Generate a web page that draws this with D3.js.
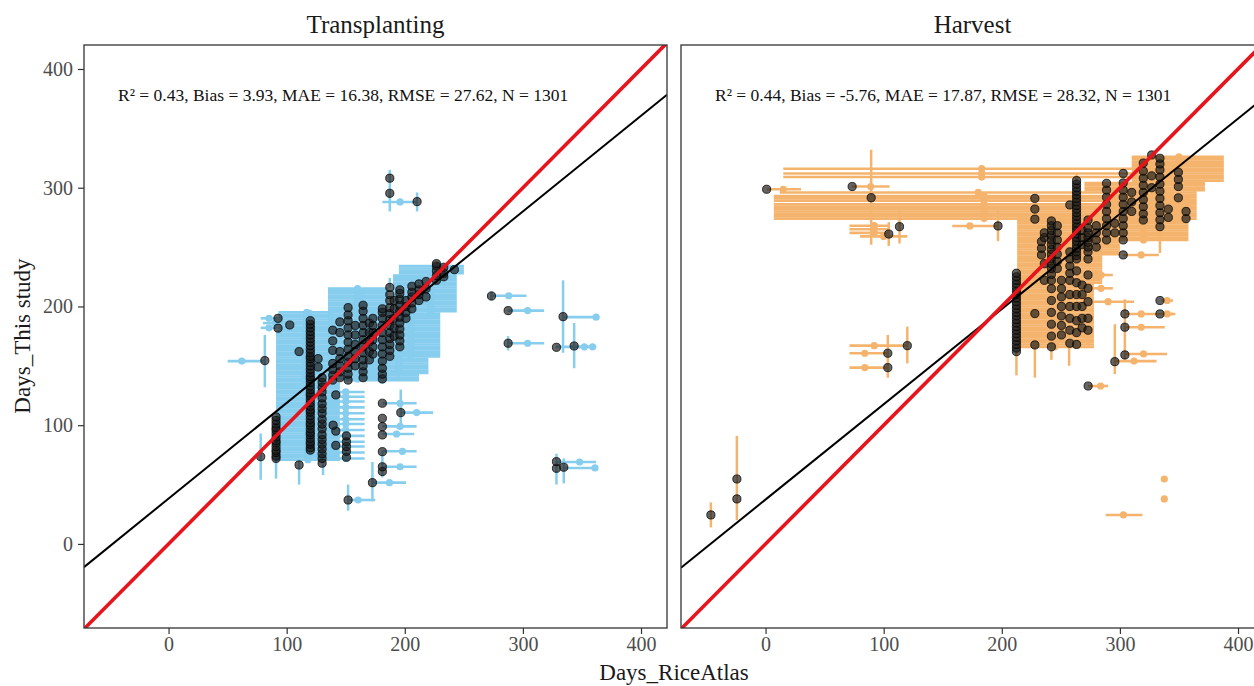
<!DOCTYPE html>
<html>
<head>
<meta charset="utf-8">
<script src="https://cdn.jsdelivr.net/npm/d3@7"></script>
<style>
  html, body { margin: 0; padding: 0; background: #fff; overflow: hidden; }
  text { font-family: "Liberation Serif", "Times New Roman", serif; }
</style>
</head>
<body>
<svg id="chart" width="1254" height="686"></svg>
<script>
// values are day-of-year
const panelTitles = ['Transplanting', 'Harvest'];
const statLabels = [
  'R\u00B2 = 0.43, Bias = 3.93, MAE = 16.38, RMSE = 27.62, N = 1301',
  'R\u00B2 = 0.44, Bias = -5.76, MAE = 17.87, RMSE = 28.32, N = 1301'
];
const tickValues = [0, 100, 200, 300, 400];
const axisDomain = [-71.6, 422];
// fitted line [intercept, slope]
const transFit = [38.2, 0.806];
const harvFit = [37.4, 0.802];

// horizontal bars (RiceAtlas range): [xlo, xhi, xdot, [y, ...]]
const transHBars = [
  [91, 145, 118, [71, 73, 75, 77, 79, 81, 83, 85, 87, 89, 91, 93, 95, 97, 99, 101, 103, 105, 107, 109, 111, 113, 115, 117, 119, 121, 123, 125, 127, 129, 131, 133, 135]],
  [91, 142, 116, [137, 139, 141, 143, 145, 147, 149, 151, 153, 155, 157, 159, 161, 163, 165, 167, 169, 171, 173, 175, 177, 179]],
  [93, 140, 117, [181, 183, 185, 187, 189, 191, 193, 195]],
  [135, 186, 160, [139, 141, 143, 145, 147, 149, 151, 153, 155, 157, 159, 161, 163, 165, 167, 169, 171, 173, 175, 177, 179, 181, 183, 185, 187, 189, 191, 193, 195, 197, 199, 201, 203, 205, 207, 209, 211, 213, 215]],
  [195, 250, 228, [228, 230, 232, 234]],
  [190, 244, 222, [196, 198, 200, 202, 204, 206, 208, 210, 212, 214, 216, 218, 220, 222, 224, 226]],
  [180, 230, 205, [158, 160, 162, 164, 166, 168, 170, 172, 174, 176, 178, 180, 182, 184, 186, 188, 190, 192, 194]],
  [165, 220, 195, [144, 146, 148, 150, 152, 154, 156]],
  [150, 212, 181, [138, 140, 142]],
  [128, 166, 150, [72, 77, 82, 86, 91, 96, 101, 105, 110, 115, 120, 124, 128]],
  [78, 93, 85, [182, 190]],
  [80, 103, 90, [186]],
  [50, 81, 62, [154]],
  [181, 210, 196, [65, 99, 118.5, 288]],
  [181, 208, 193, [92.6]],
  [181, 210, 198, [78]],
  [196, 224, 210, [110.6]],
  [172, 201, 187, [51.6]],
  [152, 175, 160.5, [37]],
  [273, 303, 288, [209]],
  [287, 318, 304, [169, 196.5]],
  [334, 362, 362, [191]],
  [328, 362, 352, [166]],
  [343, 362, 359, [166]],
  [328, 362, 348, [69]],
  [334, 362, 361, [64]]
];
// vertical bars (this study spread): [x, ylo, yhi]
const transVBars = [
  [187.3, 280, 315], [210.4, 280, 296], [81.5, 132, 176], [78, 54, 93],
  [91, 55, 75], [110.5, 50, 70], [130.8, 58, 72], [152, 28, 50],
  [172.6, 36, 69], [181, 56, 78], [196.6, 99, 130], [120, 188, 197],
  [164.7, 201, 215], [187.3, 216, 224],
  [334, 161, 222], [343.4, 148, 186], [287.5, 163, 175], [273.4, 205, 213],
  [328.4, 50, 76], [334.6, 51, 72]
];
// site points: [x, [y, ...]]
const transPoints = [
  [120, [79, 81, 84, 86, 89, 92, 94, 97, 100, 102, 105, 108, 111, 113, 116, 119, 122, 125, 127, 130, 133, 136, 139, 141, 144, 147, 150, 153, 156, 158, 161, 164, 167, 170, 173, 176, 179, 182, 185, 188]],
  [91, [72, 74, 77, 79, 82, 85, 87, 90, 93, 96, 98, 101, 104, 107]],
  [130, [68, 72, 76, 80, 84, 88, 92, 97, 101, 105, 110, 114, 118, 123, 128, 132, 136, 140]],
  [150.6, [73, 78, 82, 86, 91]],
  [141.6, [83, 95, 125.5]],
  [139.3, [100]],
  [181, [61, 65, 77.7, 91.8, 98.8, 105.8, 118.5]],
  [126.6, [149, 156]],
  [139, [138, 142, 147, 152, 163, 171, 180]],
  [145, [140, 145, 150, 156, 162, 178, 187]],
  [152, [138, 143, 148, 153, 158, 164, 170, 176, 182, 188, 193, 199]],
  [158, [150, 156, 162, 168, 176, 184]],
  [164.7, [140, 145, 150, 155, 161, 166, 172, 178, 184, 190, 196, 201]],
  [170, [155, 162, 170, 178, 186]],
  [173, [160, 166, 172, 178, 184, 190]],
  [181, [139, 143, 148, 154, 160, 166, 172, 178, 184, 190, 195, 198]],
  [187.3, [158, 163, 168, 173, 178, 184, 189, 194, 199, 205, 210, 216]],
  [191, [175, 182, 190, 198, 205]],
  [195.8, [166, 171, 176, 181, 186, 191, 196, 201, 206, 211, 214]],
  [201, [190, 195, 200, 205]],
  [206, [198, 203, 208, 212, 217]],
  [212, [205, 210, 214, 219]],
  [218, [208, 215, 221]],
  [226.8, [222, 226, 230, 234, 236]],
  [233, [225, 228, 233]],
  [242, [231]],
  [92.7, [181.7, 190]], [102.6, [184.4]], [110.5, [66.5, 162]], [81.5, [154.4]], [78, [73.5]],
  [172.6, [51.6]], [152, [37]], [196.6, [110.6]],
  [187.3, [295.3, 308]], [210.4, [288.3]],
  [273.4, [208.8]], [287.5, [169, 196.5]], [334, [191.4]],
  [328.4, [63.7, 69.3, 165.6]], [343.4, [166.7]], [334.6, [64.6]]
];

const harvHBars = [
  [15, 352, 183, [309, 312, 316]],
  [7, 360, 185, [274, 276, 278, 280, 282, 284, 286, 289, 291, 293]],
  [12, 345, 180, [296]],
  [1, 30, 15, [298.7]],
  [73, 105, 89, [301]],
  [71, 105, 92, [262, 265, 268]],
  [80, 120, 100, [259]],
  [158, 197, 173, [267.8]],
  [71, 120, 92, [167]],
  [71, 104, 84, [148.5, 160.6]],
  [213, 285, 248, [220, 222, 224, 226, 228, 230, 232, 234, 236, 238, 240, 242, 244, 246, 248, 250, 252, 254, 256, 258, 260, 262, 264, 266, 268, 270, 272, 274]],
  [213, 278, 245, [166, 168, 170, 172, 174, 176, 178, 180, 182, 184, 186, 188, 190, 192, 194, 196, 198, 200, 202, 204, 206, 208, 210, 212, 214, 216, 218]],
  [230, 300, 265, [244, 246, 248, 250, 252, 254, 256]],
  [280, 358, 320, [256, 258, 260, 262, 264, 266, 268, 270, 272]],
  [290, 365, 330, [274, 276, 278, 280, 282, 284, 286, 288, 290, 292, 294, 296]],
  [270, 372, 320, [298, 300, 302, 304]],
  [310, 388, 350, [306, 308, 310, 312, 314, 316, 318, 320, 322, 324, 326]],
  [273, 294, 284, [215.3, 226.5]],
  [273, 312, 290, [204]],
  [304, 347, 318, [193.7]],
  [304, 338, 318, [182.5]],
  [304, 340, 320, [160]],
  [296, 331, 312, [154]],
  [302.8, 333, 318, [243.4]],
  [335, 345, 340, [193.7, 205]],
  [273, 290, 283.6, [133]],
  [336, 339, 337.6, [37.9, 54.7]],
  [288, 319, 303, [24.4]]
];
const harvVBars = [
  [-46.3, 14, 35], [-24.3, 20, 91], [89.4, 252, 332], [104.3, 251, 271], [113.4, 253, 281],
  [120, 152, 183], [103.5, 140, 176], [196.8, 255, 281], [212.4, 142, 162], [228, 140, 168],
  [257, 150, 170], [273, 168, 190], [295.7, 143, 185], [304.2, 154, 206], [333.9, 245, 268],
  [263.3, 306, 312], [242, 155, 166]
];
const harvPoints = [
  [-46.3, [24.4]], [-24.3, [37.9, 54.7]], [0.9, [298.7]], [73.3, [301]], [89.4, [291.6]],
  [104.3, [261]], [113.4, [267.2]], [120, [167]], [103.5, [148.5, 160.6]], [196.8, [267.8]],
  [212.4, [162, 165, 168, 171, 174, 177, 180, 183, 186, 189, 192, 195, 198, 201, 204, 207, 210, 213, 216, 219, 222, 225, 228]],
  [228, [167.6, 194, 273.5, 282, 291]],
  [233.6, [243.4, 249, 254.6]],
  [236, [222, 236, 258, 262]],
  [242, [166, 175, 185, 195, 205, 215, 222, 227, 232, 236, 240, 244, 248, 252, 256, 260, 264, 268, 272]],
  [247, [232, 238, 244, 250, 256, 262, 268]],
  [250.5, [176, 184, 192, 200, 208, 215, 222]],
  [257.6, [169, 180, 190, 200, 210, 222, 228, 234, 240, 246, 285.5]],
  [263.3, [168, 178, 188, 200, 210, 220, 230, 240, 243, 246, 249, 252, 255, 258, 261, 264, 267, 270, 273, 276, 279, 282, 285, 288, 291, 294, 297, 300, 303, 306]],
  [268, [182, 190, 200, 210, 218, 252, 258, 264]],
  [273, [180, 190, 204, 215.3, 226.5, 240, 246, 250, 254, 258, 262, 266, 272.8]],
  [280, [250, 256, 262, 268]],
  [288.7, [256, 262, 268, 274, 280, 286, 292, 298, 303.7]],
  [295.7, [153.5, 262, 270]],
  [302.8, [243.4, 256, 262, 268, 274, 280, 286, 292, 298, 304, 312]],
  [304.2, [159.2, 182.5, 193.7]],
  [310, [280, 288, 296]],
  [319.8, [272.8, 278, 284, 290, 296, 302, 308, 314, 320.8]],
  [326.9, [300, 310, 327.6]],
  [333.9, [193.7, 205, 267.2, 273, 279, 285, 291, 297, 303, 309, 315, 320, 324.8]],
  [341, [275, 282]],
  [349.5, [291.5, 301, 307, 313]],
  [356, [274, 280]],
  [273.1, [133]]
];

const panelSize = 583, panelTop = 45;
const panels = [
  { left: 84, hbars: transHBars, vbars: transVBars, points: transPoints, fit: transFit, color: '#86cdee', yAxis: true },
  { left: 681, hbars: harvHBars, vbars: harvVBars, points: harvPoints, fit: harvFit, color: '#f5b46e', yAxis: false }
];

const svg = d3.select('#chart');

panels.forEach((p, i) => drawPanel(p, i));

function drawPanel(p, i) {
  const x = d3.scaleLinear(axisDomain, [p.left, p.left + panelSize]);
  const y = d3.scaleLinear([-70.8, 420.2], [panelTop + panelSize, panelTop]);

  svg.append('clipPath').attr('id', 'clip' + i)
    .append('rect')
    .attr('x', p.left).attr('y', panelTop)
    .attr('width', panelSize).attr('height', panelSize);

  const g = svg.append('g').attr('clip-path', `url(#clip${i})`);

  const hb = p.hbars.flatMap(([x0, x1, xd, ys]) => ys.map(v => ({ x0, x1, xd, y: v })));
  const pts = p.points.flatMap(([px, ys]) => ys.map(v => [px, v]));

  g.append('g').selectAll('line')
    .data(hb)
    .join('line')
    .attr('x1', d => x(d.x0)).attr('x2', d => x(d.x1))
    .attr('y1', d => y(d.y)).attr('y2', d => y(d.y))
    .attr('stroke', p.color)
    .attr('stroke-width', 2.6);

  g.append('g').selectAll('line')
    .data(p.vbars)
    .join('line')
    .attr('x1', d => x(d[0])).attr('x2', d => x(d[0]))
    .attr('y1', d => y(d[1])).attr('y2', d => y(d[2]))
    .attr('stroke', p.color)
    .attr('stroke-width', 2.5);

  g.append('g').selectAll('circle')
    .data(hb)
    .join('circle')
    .attr('cx', d => x(d.xd)).attr('cy', d => y(d.y))
    .attr('r', 3.6)
    .attr('fill', p.color);

  g.append('g').selectAll('circle')
    .data(pts)
    .join('circle')
    .attr('cx', d => x(d[0])).attr('cy', d => y(d[1]))
    .attr('r', 4.1)
    .attr('fill', '#1a1a1a')
    .attr('fill-opacity', 0.68)
    .attr('stroke', '#000')
    .attr('stroke-opacity', 0.75)
    .attr('stroke-width', 1);

  const [d0, d1] = axisDomain;
  // regression line
  g.append('line')
    .attr('x1', x(d0)).attr('y1', y(p.fit[0] + p.fit[1] * d0))
    .attr('x2', x(d1)).attr('y2', y(p.fit[0] + p.fit[1] * d1))
    .attr('stroke', '#000')
    .attr('stroke-width', 2);
  // 1:1 line
  g.append('line')
    .attr('x1', x(d0)).attr('y1', y(d0))
    .attr('x2', x(d1)).attr('y2', y(d1))
    .attr('stroke', '#e8141c')
    .attr('stroke-width', 3.6);

  svg.append('rect')
    .attr('x', p.left).attr('y', panelTop)
    .attr('width', panelSize).attr('height', panelSize)
    .attr('fill', 'none')
    .attr('stroke', '#333')
    .attr('stroke-width', 1.3);

  svg.append('text')
    .attr('x', p.left + 34).attr('y', 101)
    .attr('font-size', 17.5)
    .attr('fill', '#111')
    .text(statLabels[i]);

  svg.append('text')
    .attr('x', p.left + panelSize / 2).attr('y', 33)
    .attr('text-anchor', 'middle')
    .attr('font-size', 25)
    .attr('fill', '#1a1a1a')
    .text(panelTitles[i]);

  const xAxis = svg.append('g')
    .attr('transform', `translate(0,${panelTop + panelSize})`)
    .call(d3.axisBottom(x).tickValues(tickValues).tickSize(6).tickPadding(3));
  styleAxis(xAxis);

  if (p.yAxis) {
    const yAxis = svg.append('g')
      .attr('transform', `translate(${p.left},0)`)
      .call(d3.axisLeft(y).tickValues(tickValues).tickSize(6).tickPadding(5));
    styleAxis(yAxis);
  }
}

function styleAxis(ax) {
  ax.select('.domain').remove();
  ax.selectAll('.tick line').attr('stroke', '#333').attr('stroke-width', 1.2);
  ax.selectAll('.tick text')
    .attr('fill', '#4d4d4d')
    .attr('font-size', 20)
    .attr('font-family', '"Liberation Serif", "Times New Roman", serif');
}

svg.append('text')
  .attr('transform', 'translate(30,336) rotate(-90)')
  .attr('text-anchor', 'middle')
  .attr('font-size', 23)
  .attr('fill', '#1a1a1a')
  .text('Days_This study');

svg.append('text')
  .attr('x', 674).attr('y', 680)
  .attr('text-anchor', 'middle')
  .attr('font-size', 23)
  .attr('fill', '#1a1a1a')
  .text('Days_RiceAtlas');
</script>
</body>
</html>
